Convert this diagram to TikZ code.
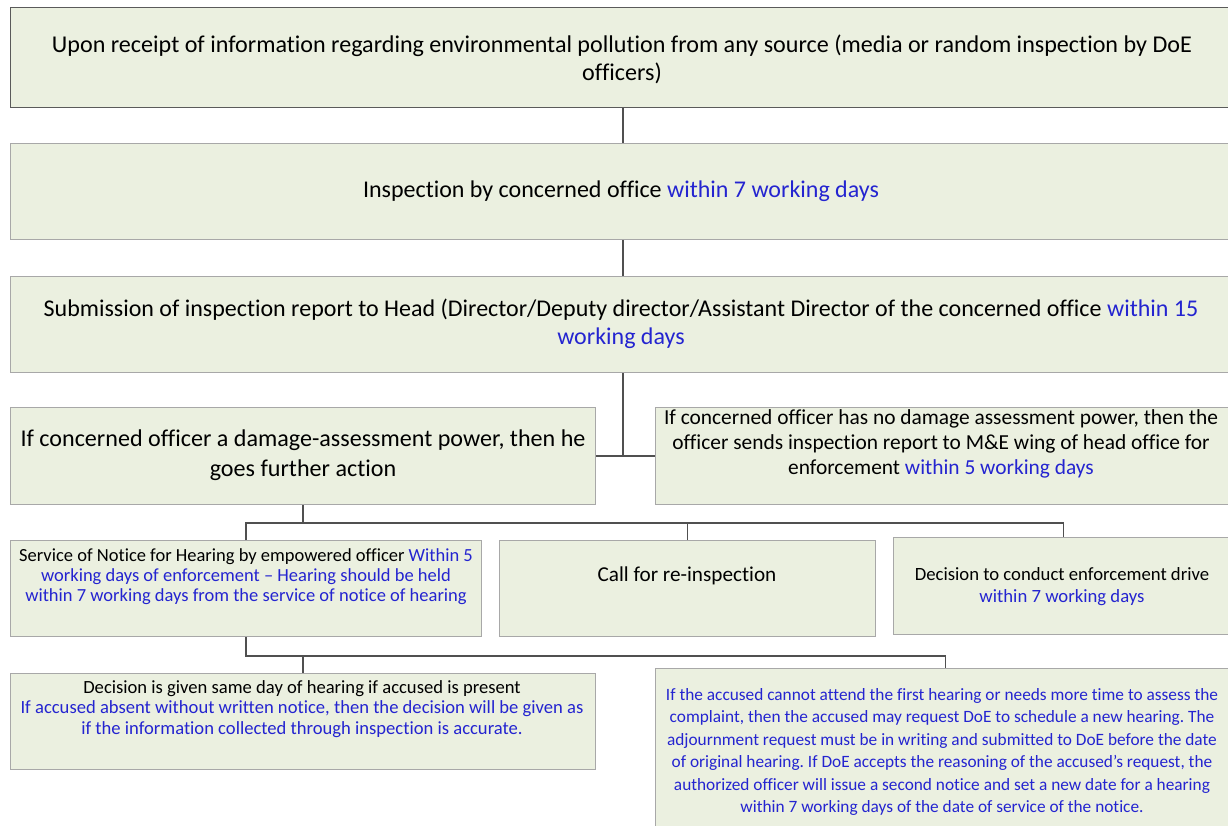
\documentclass[tikz,border=0pt]{standalone}
\usepackage{fontspec}
\setmainfont[Ligatures={TeX,NoCommon}]{Carlito}
\definecolor{boxfill}{HTML}{EBF0E0}
\definecolor{boxline}{HTML}{A8A8A8}
\definecolor{topline}{HTML}{5A5A5A}
\definecolor{connc}{HTML}{505050}
\definecolor{bluetxt}{HTML}{2424D0}
\newcommand{\bl}[1]{\textcolor{bluetxt}{#1}}
\frenchspacing
\begin{document}
\begin{tikzpicture}[x=1pt,y=-1pt,
  box/.style={draw=boxline, fill=boxfill, line width=1pt, anchor=north west, inner sep=0pt},
  txt/.style={align=center, text=black, inner sep=0pt},
  conn/.style={draw=connc, line width=1.2pt}]
\fill[white] (0,0) rectangle (1228,825);
\useasboundingbox (0,0) rectangle (1228,825);
\clip (0,0) rectangle (1228,825);
% boxes
\node[box, draw=topline, minimum width=1225pt, minimum height=100pt] (b1) at (10,7) {};
\node[box, minimum width=1225pt, minimum height=96pt] (b2) at (10,143) {};
\node[box, minimum width=1225pt, minimum height=96pt] (b3) at (10,276) {};
\node[box, minimum width=585pt, minimum height=97pt] (b4) at (10,407) {};
\node[box, minimum width=580pt, minimum height=97pt] (b5) at (655,407) {};
\node[box, minimum width=471pt, minimum height=96pt] (b6) at (10,540) {};
\node[box, minimum width=376pt, minimum height=96pt] (b7) at (499,540) {};
\node[box, minimum width=340pt, minimum height=97pt] (b8) at (893,537) {};
\node[box, minimum width=585pt, minimum height=96pt] (b9) at (10,673) {};
\node[box, minimum width=580pt, minimum height=160pt] (b10) at (655,668) {};
% connectors
\draw[conn] (b1.south) -- (b2.north);
\draw[conn] (b2.south) -- (b3.north);
\draw[conn] (b3.south) -- (b3.south |- b4.east);
\draw[conn] (b4.east) -- (b5.west);
\draw[conn] (b4.south) -- ++(0,18) coordinate (j2);
\draw[conn] (b6.north) -- (b6.north |- j2) -- (b8.north |- j2) -- (b8.north);
\draw[conn] (b7.north) -- (b7.north |- j2);
\draw[conn] (b6.south) -- ++(0,19) coordinate (j3) -- (j3 -| b10.north) -- (b10.north);
\draw[conn] (j3 -| b9.north) -- (b9.north);
% texts
\node[txt, font={\fontsize{24.1}{28}\selectfont}] (t1) at (622,59) {Upon receipt of information regarding environmental pollution from any source (media or random inspection by DoE\\officers)};
\node[txt, font={\fontsize{24}{28}\selectfont}] (t2) at (621,191) {Inspection by concerned office \bl{within 7 working days}};
\node[txt, font={\fontsize{24}{28}\selectfont}] (t3) at (621,324) {Submission of inspection report to Head (Director/Deputy director/Assistant Director of the concerned office \bl{within 15}\\\bl{working days}};
\node[txt, font={\fontsize{24.1}{30}\selectfont}] (t4) at (303,455) {If concerned officer a damage-assessment power, then he\\goes further action};
\node[txt, font={\fontsize{21.4}{25}\selectfont}] (t5) at (941,444) {If concerned officer has no damage assessment power, then the\\officer sends inspection report to M\&E wing of head office for\\enforcement \bl{within 5 working days}};
\node[txt, font={\fontsize{18.5}{20}\selectfont}] (t6) at (246,577) {Service of Notice for Hearing by empowered officer \bl{Within 5}\\\bl{working days of enforcement -- Hearing should be held}\\\bl{within 7 working days from the service of notice of hearing}};
\node[txt, font={\fontsize{21.2}{24}\selectfont}] (t7) at (687,576) {Call for re-inspection};
\node[txt, font={\fontsize{18.7}{22}\selectfont}] (t8) at (1062,587) {Decision to conduct enforcement drive\\\bl{within 7 working days}};
\node[txt, font={\fontsize{18.6}{20.5}\selectfont}] (t9) at (302,709) {Decision is given same day of hearing if accused is present\\\bl{If accused absent without written notice, then the decision will be given as}\\\bl{if the information collected through inspection is accurate.}};
\node[txt, text=bluetxt, font={\fontsize{17.3}{22.5}\selectfont}] (t10) at (942,752) {If the accused cannot attend the first hearing or needs more time to assess the\\complaint, then the accused may request DoE to schedule a new hearing. The\\adjournment request must be in writing and submitted to DoE before the date\\of original hearing. If DoE accepts the reasoning of the accused’s request, the\\authorized officer will issue a second notice and set a new date for a hearing\\within 7 working days of the date of service of the notice.};
\end{tikzpicture}
\end{document}
